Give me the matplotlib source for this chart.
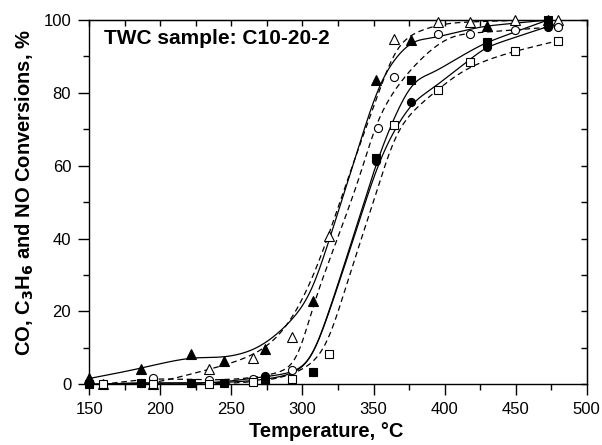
import numpy as np
import matplotlib
matplotlib.use("Agg")
import matplotlib.pyplot as plt
from matplotlib.ticker import MultipleLocator, NullLocator

plt.rcParams['font.family'] = ['Liberation Sans', 'DejaVu Sans']

# ---- data ----
t_filled = [150, 186.4, 221.6, 245, 273.6, 307.6, 351.5, 376.4, 429.7, 472.6]
tri_filled = [1.6, 4.3, 8.2, 6.4, 9.6, 23.0, 83.5, 94.5, 98.4, 100.0]
sq_filled = [0.0, 0.4, 0.3, 0.4, 1.1, 3.5, 62.0, 83.5, 93.9, 100.0]
circ_filled = [0.0, 0.4, 0.3, 0.4, 2.2, 3.4, 61.3, 77.4, 92.7, 98.2]

t_open = [159.4, 194.6, 234.4, 265, 292.4, 318.5, 364.6, 395.2, 417.9, 449.8, 479.6]
tri_open = [0.0, 0.0, 4.1, 7.3, 13.0, 40.7, 94.8, 99.4, 99.4, 100.0, 100.0]
sq_open = [0.0, 0.0, 0.0, 0.6, 1.4, 8.2, 71.3, 80.8, 88.4, 91.5, 94.3]
t_circ_open = [159.4, 194.6, 234.4, 265, 292.4, 353.0, 364.6, 395.2, 417.9, 449.8, 479.6]
circ_open = [0.0, 1.7, 1.1, 1.4, 4.0, 70.3, 84.4, 96.3, 96.3, 97.3, 98.2]

x_ticks = [150, 200, 250, 300, 350, 400, 450, 500]
y_ticks = [0, 20, 40, 60, 80, 100]


def local_linear(T, y, h=20.0, n=400):
    """Locally weighted linear regression with Gaussian weights."""
    T = np.asarray(T, float); y = np.asarray(y, float)
    tt = np.linspace(T.min(), T.max(), n)
    out = np.empty_like(tt)
    for i, t0 in enumerate(tt):
        d = (T - t0) / h
        w = np.exp(-0.5 * d ** 2)
        X = np.vstack([np.ones_like(d), d]).T
        A = X.T @ (w[:, None] * X) + np.diag([1e-9, 1e-6])
        b = X.T @ (w * y)
        out[i] = np.linalg.solve(A, b)[0]
    return tt, out


fig = plt.figure(figsize=(6.02, 4.45), dpi=100)
ax = fig.add_axes([0.1483, 0.1364, 0.8263, 0.8186])

lw = 0.9
dash = (0, (4.5, 3))
series = [
    (t_filled, tri_filled, '^', 'black', '-'),
    (t_filled, sq_filled, 's', 'black', '-'),
    (t_filled, circ_filled, 'o', 'black', '-'),
    (t_open, tri_open, '^', 'white', dash),
    (t_circ_open, circ_open, 'o', 'white', dash),
    (t_open, sq_open, 's', 'white', dash),
]
for T, y, m, fc, ls in series:
    tt, yy = local_linear(T, y)
    ax.plot(tt, yy, color='black', lw=lw, linestyle=ls, zorder=2)
for T, y, m, fc, ls in series:
    ms = {'^': 6.8, 'o': 5.8, 's': 5.4}[m]
    ax.plot(T, y, linestyle='none', marker=m, ms=ms, mfc=fc, mec='black', mew=0.8,
            clip_on=False, zorder=3)

ax.set_xlim(150, 500)
ax.set_ylim(0, 100)
ax.set_xticks(x_ticks)
ax.set_yticks(y_ticks)
ax.xaxis.set_minor_locator(MultipleLocator(25))
ax.yaxis.set_minor_locator(MultipleLocator(10))
ax.tick_params(axis='both', which='major', direction='out', length=8, width=1,
               labelsize=12, pad=5, top=False, right=False)
ax.tick_params(axis='both', which='minor', direction='out', length=4, width=1,
               top=False, right=False)

# inward ticks on top and right
axt = ax.secondary_xaxis('top')
axt.set_xticks(np.arange(150, 501, 25))
axt.tick_params(direction='in', length=4, width=1, labeltop=False)
axt.xaxis.set_minor_locator(NullLocator())
axr = ax.secondary_yaxis('right')
axr.set_yticks(np.arange(0, 101, 10))
axr.tick_params(direction='in', length=4, width=1, labelright=False)
axr.yaxis.set_minor_locator(NullLocator())

for sp in ax.spines.values():
    sp.set_linewidth(1.0)

ax.set_xlabel('Temperature, \u00b0C', fontsize=14.5, fontweight='bold')
ax.xaxis.set_label_coords(0.477, -0.104)
ax.set_ylabel('CO, C$_\\mathbf{3}$H$_\\mathbf{6}$ and NO Conversions, %', fontsize=14.5,
              fontweight='bold')
ax.yaxis.set_label_coords(-0.108, 0.527)
ax.text(0.03, 0.975, 'TWC sample: C10-20-2', transform=ax.transAxes, fontsize=15,
        fontweight='bold', va='top', ha='left')

fig.savefig('out.png', dpi=100)
